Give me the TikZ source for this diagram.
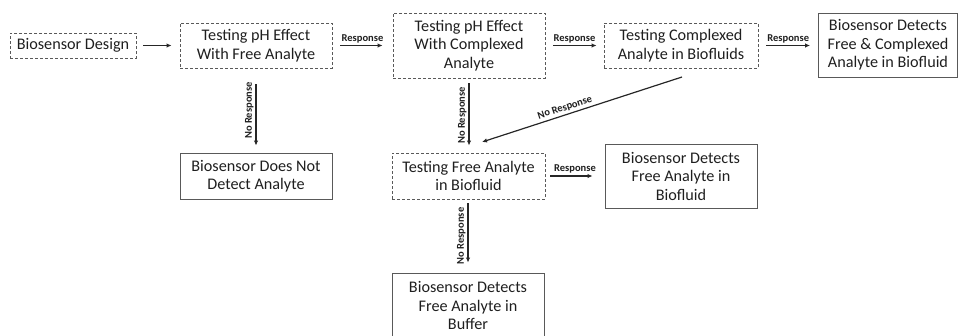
\documentclass[tikz,border=0pt]{standalone}
\usepackage{fontspec}
\setmainfont{Carlito}
\usepackage{xcolor}
\usetikzlibrary{arrows.meta}

\definecolor{boxgray}{HTML}{595959}
\definecolor{textgray}{HTML}{1F1F1F}

\begin{document}
\begin{tikzpicture}[x=1pt, y=-1pt,
        testbox/.style={draw=boxgray, dashed, dash pattern=on 3pt off 2pt, line width=0.9pt, align=center,
            text=textgray, font=\fontsize{16.2}{18.5}\selectfont, inner sep=0pt},
        resultbox/.style={draw=boxgray, line width=0.9pt, align=center,
            text=textgray, font=\fontsize{16.2}{18.5}\selectfont, inner sep=0pt},
        flow/.style={-{Latex[length=5pt, width=4.5pt]}, line width=1.2pt, black!85},
        lbl/.style={font=\fontsize{10.5}{11}\selectfont\bfseries, text=textgray, inner sep=2pt}]
        \useasboundingbox (0,0) rectangle (958,335);

        % Testing steps (dashed)
        \node[testbox, minimum width=126pt, minimum height=25pt] (design) at (73,45.5) {Biosensor Design};
        \node[testbox, minimum width=152pt, minimum height=45pt] (freeph) at (256,45.5) {Testing pH Effect\\With Free Analyte};
        \node[testbox, minimum width=152pt, minimum height=65pt] (complexph) at (469,45.5) {Testing pH Effect\\With Complexed\\Analyte};
        \node[testbox, minimum width=154pt, minimum height=45pt] (complexbio) at (681,45.5) {Testing Complexed\\Analyte in Biofluids};
        \node[testbox, minimum width=153pt, minimum height=46pt] (freebio) at (468.5,176) {Testing Free Analyte\\in Biofluid};

        % Outcomes (solid)
        \node[resultbox, minimum width=139pt, minimum height=64pt] (detectboth) at (888,45) {Biosensor Detects\\Free \& Complexed\\Analyte in Biofluid};
        \node[resultbox, minimum width=152pt, minimum height=46pt] (nodetect) at (256,176) {Biosensor Does Not\\Detect Analyte};
        \node[resultbox, minimum width=152pt, minimum height=64pt] (detectfree) at (681,176) {Biosensor Detects\\Free Analyte in\\Biofluid};
        \node[resultbox, minimum width=152pt, minimum height=65pt] (detectbuffer) at (468,305.5) {Biosensor Detects\\Free Analyte in\\Buffer};

        % Horizontal arrows
        \draw[flow, shorten <=7pt, shorten >=8pt] (design) -- (freeph);
        \draw[flow, shorten <=8pt, shorten >=10pt] (freeph) -- (complexph) node[lbl, midway, above] {Response};
        \draw[flow, shorten <=8pt, shorten >=7pt] (complexph.east |- complexbio) -- (complexbio) node[lbl, midway, above] {Response};
        \draw[flow, shorten <=8pt, shorten >=8pt] (complexbio) -- (detectboth.west |- complexbio) node[lbl, midway, above] {Response};
        \draw[flow, shorten <=5pt, shorten >=12pt] (freebio) -- (detectfree) node[lbl, midway, above] {Response};

        % Vertical arrows
        \draw[flow, shorten <=16pt, shorten >=7pt] (freeph.south) -- (nodetect.north)
            node[lbl, midway, rotate=90, anchor=south] {No Response};
        \draw[flow, shorten <=5pt, shorten >=7pt] (complexph.south) -- (freebio.north -| complexph.south)
            node[lbl, midway, rotate=90, anchor=south] {No Response};
        \draw[flow, shorten <=4pt, shorten >=10pt] (freebio.south -| detectbuffer.north) -- (detectbuffer.north)
            node[lbl, midway, rotate=90, anchor=south] {No Response};

        % Diagonal arrow back to biofluid test
        \coordinate (diagtop) at (682,77);
        \coordinate (diagend) at (482,142);
        \draw[flow, {Latex[length=5pt, width=4.5pt]}-] (diagend) -- (diagtop)
            node[lbl, pos=0.425, sloped, above] {No Response};
\end{tikzpicture}
\end{document}
